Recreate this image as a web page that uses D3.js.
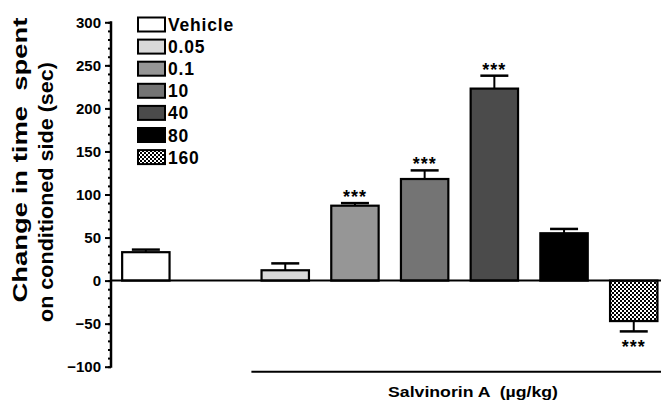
<!DOCTYPE html>
<html><head><meta charset="utf-8">
<script src="https://cdn.jsdelivr.net/npm/d3@7"></script>
<style>body{margin:0;background:#fff}svg{display:block;font-family:Arial,"Liberation Sans",sans-serif}text{white-space:pre}</style>
</head><body><svg id="c" width="661" height="405"></svg>
<script>
const slots = ["Vehicle", "", "0.05", "0.1", "10", "40", "80", "160"];
const groups = ["Vehicle", "0.05", "0.1", "10", "40", "80", "160"];
const means = [33, 12, 87, 118, 223, 55, -47];
const errors = [3, 8, 3, 10, 15, 5, 12];
const signif = ["", "", "***", "***", "***", "", "***"];
const fills = ["#ffffff", "#d9d9d9", "#969696", "#747474", "#4b4b4b", "#000000", "url(#checker)"];
const yTicks = [-100, -50, 0, 50, 100, 150, 200, 250, 300];

const svg = d3.select("#c");
const defs = svg.append("defs");
const pat = defs.append("pattern").attr("id", "checker").attr("patternUnits", "userSpaceOnUse")
  .attr("width", 4).attr("height", 4);
pat.append("rect").attr("width", 4).attr("height", 4).attr("fill", "#fff");
pat.append("rect").attr("width", 2).attr("height", 2).attr("fill", "#000");
pat.append("rect").attr("x", 2).attr("y", 2).attr("width", 2).attr("height", 2).attr("fill", "#000");

const x = d3.scaleBand().domain(slots).range([111, 668.6]);
const y = d3.scaleLinear().domain([-100, 300]).range([366.7, 22.3]);
const bw = x.bandwidth() * 0.68;
const cx = g => x(g) + x.bandwidth() / 2;

// y axis
const ax = svg.append("g").attr("transform", "translate(111,0)");
ax.call(d3.axisLeft(y).tickValues(d3.range(-100, 301, 10)).tickSize(3).tickFormat(""))
  .call(g => g.selectAll("line").attr("stroke", "#000").attr("stroke-width", 2))
  .call(g => g.select(".domain").remove());
ax.append("g").call(d3.axisLeft(y).tickValues(yTicks).tickSize(6).tickPadding(4))
  .call(g => g.select(".domain").remove())
  .call(g => g.selectAll("line").attr("stroke", "#000").attr("stroke-width", 2))
  .call(g => g.selectAll("text").attr("font-size", 15).attr("font-weight", "bold").attr("fill", "#000")
     .attr("font-family", "Arial, 'Liberation Sans', sans-serif"));
svg.append("line").attr("x1", 111).attr("x2", 111).attr("y1", y(300) - 1).attr("y2", y(-100) + 1)
  .attr("stroke", "#000").attr("stroke-width", 2.5);

// axis title
svg.append("text").attr("transform", "translate(27,160) rotate(-90)")
  .attr("text-anchor", "middle").attr("font-weight", "bold").attr("font-size", 20)
  .attr("textLength", 285).attr("lengthAdjust", "spacingAndGlyphs").text("Change in time  spent");
svg.append("text").attr("transform", "translate(53,192) rotate(-90)")
  .attr("text-anchor", "middle").attr("font-weight", "bold").attr("font-size", 19.5)
  .attr("textLength", 260).attr("lengthAdjust", "spacingAndGlyphs").text("on conditioned side (sec)");

// bars
const data = groups.map((g, i) => ({g, m: means[i], e: errors[i], s: signif[i], f: fills[i]}));
const bars = svg.append("g");
data.forEach(d => {
  const x0 = cx(d.g) - bw / 2;
  const top = d.m >= 0 ? y(d.m) : y(0);
  bars.append("rect").attr("x", x0).attr("y", top).attr("width", bw)
    .attr("height", Math.abs(y(d.m) - y(0))).attr("fill", d.f).attr("stroke", "#000").attr("stroke-width", 2.2);
  const sign = d.m >= 0 ? 1 : -1;
  const ye = y(d.m + sign * d.e);
  bars.append("line").attr("x1", cx(d.g)).attr("x2", cx(d.g)).attr("y1", y(d.m)).attr("y2", ye)
    .attr("stroke", "#000").attr("stroke-width", 2);
  bars.append("line").attr("x1", cx(d.g) - 14).attr("x2", cx(d.g) + 14).attr("y1", ye).attr("y2", ye)
    .attr("stroke", "#000").attr("stroke-width", 2.5);
  if (d.s) {
    bars.append("text").attr("x", cx(d.g)).attr("y", sign > 0 ? ye : ye + 22)
      .attr("text-anchor", "middle").attr("font-size", 18).attr("font-weight", "bold")
      .attr("letter-spacing", 1).text(d.s);
  }
});

// zero line
svg.append("line").attr("x1", 111).attr("x2", 661).attr("y1", y(0)).attr("y2", y(0))
  .attr("stroke", "#000").attr("stroke-width", 2);

// Salvinorin line and label
svg.append("line").attr("x1", x("0.05") + 1).attr("x2", 661).attr("y1", 371.7).attr("y2", 371.7)
  .attr("stroke", "#000").attr("stroke-width", 2);
svg.append("text").attr("x", 473).attr("y", 397).attr("text-anchor", "middle")
  .attr("font-size", 14).attr("font-weight", "bold").attr("textLength", 170).attr("lengthAdjust", "spacingAndGlyphs")
  .text("Salvinorin A  (\u00b5g/kg)");

// legend
const lg = svg.append("g");
groups.forEach((g, i) => {
  const yy = 17.5 + i * 22.1;
  lg.append("rect").attr("x", 138).attr("y", yy).attr("width", 27).attr("height", 14)
    .attr("fill", fills[i]).attr("stroke", "#000").attr("stroke-width", 2);
  lg.append("text").attr("x", 168).attr("y", yy + 13.5).attr("font-size", 17.5).attr("font-weight", "bold")
    .attr("letter-spacing", 0.8).text(g);
});
</script></body></html>
